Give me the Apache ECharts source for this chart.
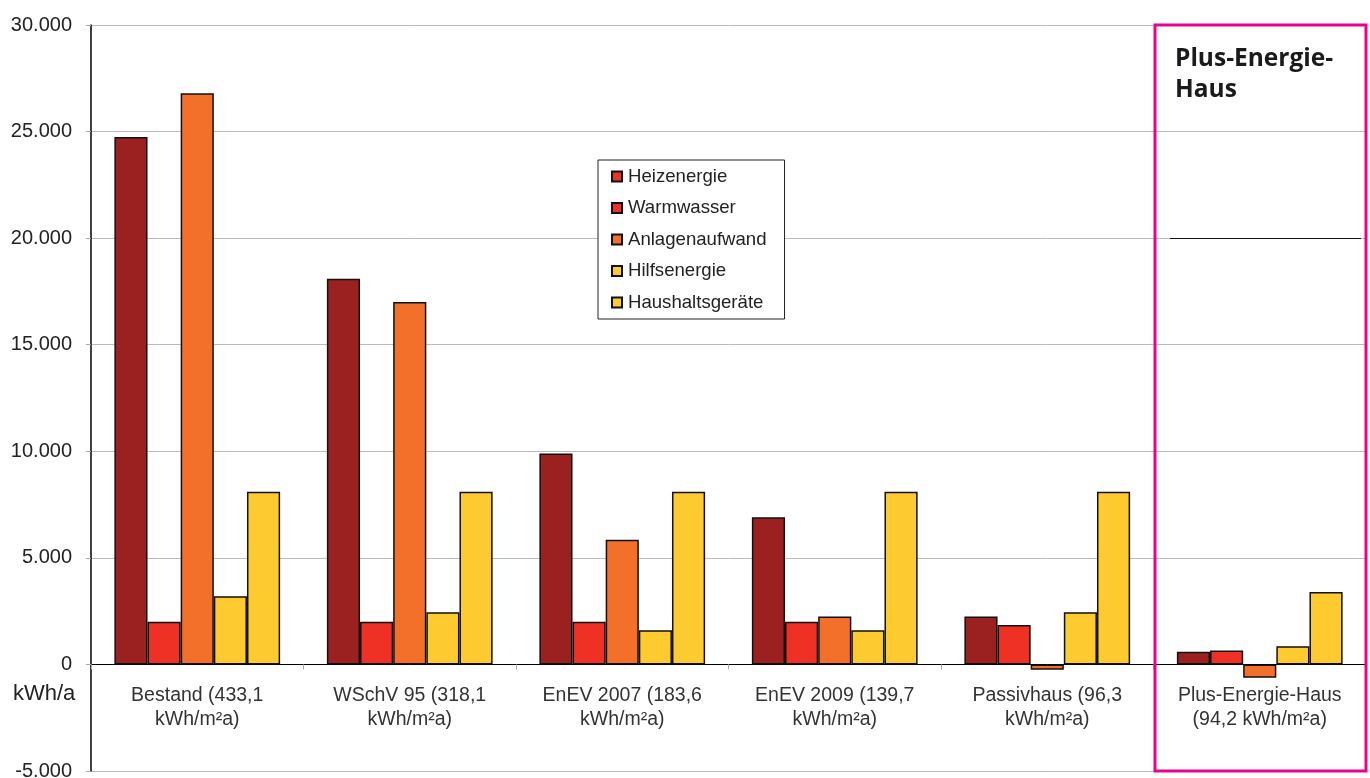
<!DOCTYPE html>
<html>
<head>
<meta charset="utf-8">
<script src="https://cdn.jsdelivr.net/npm/echarts@6/dist/echarts.min.js"></script>
<style>
  html, body { margin: 0; padding: 0; background: #fff; }
  #chart { width: 1370px; height: 778px; }
</style>
</head>
<body>
<div id="chart"></div>
<script>
const categories = [
  'Bestand (433,1\nkWh/m²a)',
  'WSchV 95 (318,1\nkWh/m²a)',
  'EnEV 2007 (183,6\nkWh/m²a)',
  'EnEV 2009 (139,7\nkWh/m²a)',
  'Passivhaus (96,3\nkWh/m²a)',
  'Plus-Energie-Haus\n(94,2 kWh/m²a)',
]
const heizenergie = [24750, 18100, 9900, 6900, 2250, 600]
const warmwasser = [2000, 2000, 2000, 2000, 1850, 650]
const anlagenaufwand = [26800, 17000, 5850, 2250, -250, -620]
const hilfsenergie = [3200, 2450, 1600, 1600, 2450, 850]
const haushaltsgeraete = [8100, 8100, 8100, 8100, 8100, 3400]
const yTicks = [-5000, 0, 5000, 10000, 15000, 20000, 25000, 30000]

const fmt = (v) => {
  if (v === 0) return '0'
  const s = String(Math.abs(v)).replace(/\B(?=(\d{3})+(?!\d))/g, '.')
  return (v < 0 ? '-' : '') + s
}

const chart = echarts.init(document.getElementById('chart'))

const mkBar = (name, data, color) => ({
  name,
  type: 'bar',
  data,
  barGap: 0,
  barCategoryGap: '22%',
  itemStyle: { color, borderColor: '#111', borderWidth: 1.5 },
})

// grid: top 25, bottom 771 -> zero line sits 6/7 of the way down
const gridTop = 25
const gridBottom = 771
const zeroOffset = (gridBottom - gridTop) * 5000 / 35000

chart.setOption({
  animation: false,
  textStyle: { fontFamily: 'Liberation Sans, Arial, sans-serif' },
  grid: {
    left: 91,
    right: 4,
    top: gridTop,
    bottom: 778 - gridBottom,
    containLabel: false,
    outerBoundsMode: 'none',
  },
  legend: {
    orient: 'vertical',
    left: 598,
    top: 160,
    backgroundColor: '#fff',
    borderColor: '#222',
    borderWidth: 1,
    padding: [7, 18, 7, 13],
    itemGap: 12.5,
    itemWidth: 10,
    itemHeight: 10,
    icon: 'rect',
    textStyle: { fontSize: 18.6, color: '#222', padding: [0, 0, 0, 1] },
    data: [
      { name: 'Heizenergie', itemStyle: { color: '#EE3124' } },
      'Warmwasser',
      'Anlagenaufwand',
      'Hilfsenergie',
      'Haushaltsgeräte',
    ],
  },
  xAxis: {
    type: 'category',
    data: categories,
    position: 'bottom',
    offset: -zeroOffset,
    axisLine: { onZero: false, lineStyle: { color: '#000', width: 1 } },
    axisTick: { show: true, length: 5, lineStyle: { color: '#aaa' } },
    axisLabel: {
      fontSize: 19.5,
      color: '#333',
      lineHeight: 24,
      margin: 19,
      interval: 0,
    },
  },
  yAxis: {
    type: 'value',
    min: yTicks[0],
    max: yTicks[yTicks.length - 1],
    interval: 5000,
    axisLine: { show: true, lineStyle: { color: '#000', width: 1.5 } },
    axisTick: { show: true, length: 5, inside: false, lineStyle: { color: '#aaa' } },
    splitLine: { show: true, lineStyle: { color: '#bbb', width: 1 } },
    axisLabel: {
      fontSize: 20,
      color: '#222',
      margin: 19,
      formatter: fmt,
    },
  },
  graphic: [
    {
      type: 'text',
      left: 13,
      top: 683,
      style: { text: 'kWh/a', fontSize: 22, fill: '#222', fontFamily: 'Liberation Sans, Arial, sans-serif' },
    },
    {
      type: 'rect',
      shape: { x: 1155, y: 25, width: 211, height: 746 },
      style: { fill: 'none', stroke: '#EC008C', lineWidth: 3 },
      z: 100,
    },
    {
      type: 'line',
      shape: { x1: 1170, y1: 238.5, x2: 1361, y2: 238.5 },
      style: { stroke: '#111', lineWidth: 1.2 },
      z: 100,
    },
    {
      type: 'text',
      left: 1175,
      top: 44,
      style: {
        text: 'Plus-Energie-\nHaus',
        fontSize: 24.5,
        fontWeight: 'bold',
        lineHeight: 31,
        fill: '#1a1a1a',
        fontFamily: 'Open Sans, Lato, sans-serif',
      },
      z: 100,
    },
  ],
  series: [
    mkBar('Heizenergie', heizenergie, '#9B2121'),
    mkBar('Warmwasser', warmwasser, '#EE3124'),
    mkBar('Anlagenaufwand', anlagenaufwand, '#F3702A'),
    mkBar('Hilfsenergie', hilfsenergie, '#FDCB2F'),
    mkBar('Haushaltsgeräte', haushaltsgeraete, '#FDCB2F'),
  ],
})
</script>
</body>
</html>
